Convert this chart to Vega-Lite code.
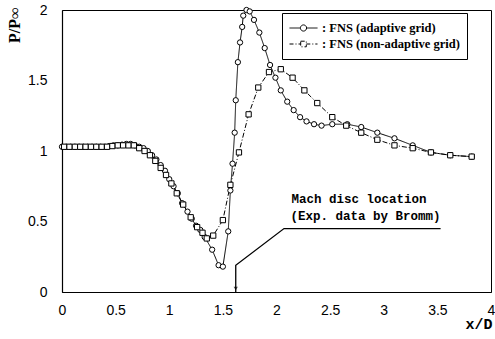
{
"$schema":"https://vega.github.io/schema/vega-lite/v6.json",
"width":429,"height":282,
"autosize":{"type":"none"},
"padding":{"left":62,"top":10,"right":4,"bottom":47},
"background":"white",
"config":{"view":{"stroke":"black","strokeWidth":1},"axis":{"grid":false,"ticks":false,"domainColor":"black","labelColor":"black","titleColor":"black","labelFont":"Liberation Sans","labelFontSize":14,"domainWidth":1.2}},
"datasets":{
"pts":[
{"s":"A","x":0,"y":1.03},{"s":"A","x":0.04,"y":1.03},{"s":"A","x":0.08,"y":1.03},{"s":"A","x":0.12,"y":1.03},{"s":"A","x":0.16,"y":1.03},{"s":"A","x":0.2,"y":1.03},{"s":"A","x":0.24,"y":1.03},{"s":"A","x":0.28,"y":1.03},{"s":"A","x":0.32,"y":1.03},{"s":"A","x":0.36,"y":1.03},{"s":"A","x":0.4,"y":1.03},{"s":"A","x":0.44,"y":1.035},{"s":"A","x":0.48,"y":1.04},{"s":"A","x":0.52,"y":1.04},{"s":"A","x":0.56,"y":1.045},{"s":"A","x":0.6,"y":1.05},{"s":"A","x":0.64,"y":1.05},{"s":"A","x":0.68,"y":1.04},{"s":"A","x":0.72,"y":1.03},{"s":"A","x":0.76,"y":1.02},{"s":"A","x":0.8,"y":1.0},{"s":"A","x":0.84,"y":0.97},{"s":"A","x":0.88,"y":0.94},{"s":"A","x":0.92,"y":0.9},{"s":"A","x":0.96,"y":0.86},{"s":"A","x":1.0,"y":0.8},{"s":"A","x":1.04,"y":0.75},{"s":"A","x":1.08,"y":0.7},{"s":"A","x":1.12,"y":0.63},{"s":"A","x":1.17,"y":0.57},{"s":"A","x":1.21,"y":0.52},{"s":"A","x":1.25,"y":0.47},{"s":"A","x":1.29,"y":0.44},{"s":"A","x":1.33,"y":0.39},{"s":"A","x":1.4,"y":0.3},{"s":"A","x":1.46,"y":0.19},{"s":"A","x":1.5,"y":0.18},{"s":"A","x":1.55,"y":0.43},{"s":"A","x":1.57,"y":0.72},{"s":"A","x":1.59,"y":0.91},{"s":"A","x":1.61,"y":1.13},{"s":"A","x":1.62,"y":1.36},{"s":"A","x":1.64,"y":1.63},{"s":"A","x":1.66,"y":1.77},{"s":"A","x":1.68,"y":1.88},{"s":"A","x":1.69,"y":1.96},{"s":"A","x":1.72,"y":2.0},{"s":"A","x":1.75,"y":1.99},{"s":"A","x":1.79,"y":1.93},{"s":"A","x":1.84,"y":1.84},{"s":"A","x":1.89,"y":1.73},{"s":"A","x":1.94,"y":1.61},{"s":"A","x":1.99,"y":1.52},{"s":"A","x":2.04,"y":1.43},{"s":"A","x":2.1,"y":1.35},{"s":"A","x":2.16,"y":1.29},{"s":"A","x":2.22,"y":1.24},{"s":"A","x":2.28,"y":1.21},{"s":"A","x":2.35,"y":1.19},{"s":"A","x":2.42,"y":1.18},{"s":"A","x":2.52,"y":1.19},{"s":"A","x":2.66,"y":1.19},{"s":"A","x":2.79,"y":1.17},{"s":"A","x":2.94,"y":1.13},{"s":"A","x":3.1,"y":1.09},{"s":"A","x":3.27,"y":1.04},{"s":"A","x":3.44,"y":0.99},{"s":"A","x":3.62,"y":0.97},{"s":"A","x":3.82,"y":0.96},
{"s":"N","x":0.02,"y":1.03},{"s":"N","x":0.07,"y":1.03},{"s":"N","x":0.12,"y":1.03},{"s":"N","x":0.17,"y":1.03},{"s":"N","x":0.22,"y":1.03},{"s":"N","x":0.27,"y":1.03},{"s":"N","x":0.32,"y":1.03},{"s":"N","x":0.37,"y":1.03},{"s":"N","x":0.42,"y":1.03},{"s":"N","x":0.47,"y":1.035},{"s":"N","x":0.52,"y":1.04},{"s":"N","x":0.57,"y":1.04},{"s":"N","x":0.62,"y":1.04},{"s":"N","x":0.67,"y":1.04},{"s":"N","x":0.72,"y":1.02},{"s":"N","x":0.77,"y":1.0},{"s":"N","x":0.82,"y":0.97},{"s":"N","x":0.87,"y":0.93},{"s":"N","x":0.92,"y":0.88},{"s":"N","x":0.97,"y":0.83},{"s":"N","x":1.02,"y":0.77},{"s":"N","x":1.07,"y":0.7},{"s":"N","x":1.13,"y":0.62},{"s":"N","x":1.2,"y":0.53},{"s":"N","x":1.26,"y":0.46},{"s":"N","x":1.31,"y":0.42},{"s":"N","x":1.35,"y":0.38},{"s":"N","x":1.41,"y":0.4},{"s":"N","x":1.5,"y":0.51},{"s":"N","x":1.57,"y":0.76},{"s":"N","x":1.65,"y":0.99},{"s":"N","x":1.74,"y":1.26},{"s":"N","x":1.83,"y":1.45},{"s":"N","x":1.93,"y":1.56},{"s":"N","x":2.04,"y":1.58},{"s":"N","x":2.15,"y":1.52},{"s":"N","x":2.26,"y":1.43},{"s":"N","x":2.38,"y":1.34},{"s":"N","x":2.52,"y":1.24},{"s":"N","x":2.65,"y":1.18},{"s":"N","x":2.79,"y":1.13},{"s":"N","x":2.94,"y":1.08},{"s":"N","x":3.1,"y":1.04},{"s":"N","x":3.27,"y":1.02},{"s":"N","x":3.44,"y":0.99},{"s":"N","x":3.62,"y":0.97},{"s":"N","x":3.82,"y":0.96}
],
"xticks":[{"x":0.1},{"x":0.2},{"x":0.3},{"x":0.4},{"x":0.5},{"x":0.6},{"x":0.7},{"x":0.8},{"x":0.9},{"x":1},{"x":1.1},{"x":1.2},{"x":1.3},{"x":1.4},{"x":1.5},{"x":1.6},{"x":1.7},{"x":1.8},{"x":1.9},{"x":2},{"x":2.1},{"x":2.2},{"x":2.3},{"x":2.4},{"x":2.5},{"x":2.6},{"x":2.7},{"x":2.8},{"x":2.9},{"x":3},{"x":3.1},{"x":3.2},{"x":3.3},{"x":3.4},{"x":3.5},{"x":3.6},{"x":3.7},{"x":3.8},{"x":3.9}],
"yticks":[{"y":0.1},{"y":0.2},{"y":0.3},{"y":0.4},{"y":0.5},{"y":0.6},{"y":0.7},{"y":0.8},{"y":0.9},{"y":1},{"y":1.1},{"y":1.2},{"y":1.3},{"y":1.4},{"y":1.5},{"y":1.6},{"y":1.7},{"y":1.8},{"y":1.9}],
"mach":[{"x":1.62,"y":0},{"x":1.62,"y":0.19},{"x":2.07,"y":0.45},{"x":3.53,"y":0.45}],
"arrow":[{"x":1.62,"y":0.025}],
"notes":[{"x":2.77,"y":0.66,"t":"Mach disc location"},{"x":2.83,"y":0.54,"t":"(Exp. data by Bromm)"}]
},
"encoding":{
"x":{"field":"x","type":"quantitative","scale":{"domain":[0,4],"nice":false,"zero":false},
"axis":{"values":[0,0.5,1,1.5,2,2.5,3,3.5,4],"format":"~g","labelPadding":11,"labelFlush":false,"labelOverlap":false,
"title":"x/D","titleFont":"Liberation Mono","titleFontWeight":"bold","titleFontSize":15,"titleAnchor":"end","titleAlign":"right","titleX":430,"titleY":36,"titleBaseline":"alphabetic"}},
"y":{"field":"y","type":"quantitative","scale":{"domain":[0,2],"nice":false,"zero":false},
"axis":{"values":[0,0.5,1,1.5,2],"format":"~g","labelPadding":15,"labelFlush":false,"labelOverlap":false,
"title":"P/P∞","titleFont":"Liberation Serif","titleFontWeight":"bold","titleFontSize":16,"titleAngle":-90,"titleAlign":"right","titleBaseline":"middle","titleX":-48,"titleY":-3}}
},
"layer":[
{"data":{"name":"xticks"},"mark":{"type":"rule","color":"black","strokeWidth":1},
 "encoding":{"y":{"datum":0,"type":"quantitative"},"y2":{"datum":0.042}}},
{"data":{"name":"yticks"},"mark":{"type":"rule","color":"black","strokeWidth":1},
 "encoding":{"x":{"datum":0,"type":"quantitative"},"x2":{"datum":0.047}}},
{"data":{"name":"pts"},"mark":{"type":"line","color":"black","strokeWidth":1},
 "encoding":{"strokeDash":{"field":"s","type":"nominal","scale":{"domain":["A","N"],"range":[[1,0],[5,2,1,2]]},"legend":null}}},
{"data":{"name":"pts"},"mark":{"type":"point","filled":false,"stroke":"black","strokeWidth":1,"size":28,"fill":"white","fillOpacity":1},
 "encoding":{"shape":{"field":"s","type":"nominal","scale":{"domain":["A","N"],"range":["circle","square"]},"legend":null}}},
{"data":{"name":"mach"},"mark":{"type":"line","color":"black","strokeWidth":1.3},"encoding":{}},
{"data":{"name":"arrow"},"mark":{"type":"point","shape":"triangle-down","filled":true,"color":"black","size":18},"encoding":{}},
{"data":{"name":"notes"},"mark":{"type":"text","font":"Liberation Mono","fontWeight":"bold","fontSize":12.5,"align":"center","baseline":"middle","color":"black"},
 "encoding":{"text":{"field":"t"}}},
{"data":{"name":"pts"},"mark":{"type":"point","opacity":0,"filled":false,"stroke":"black","size":784},
 "encoding":{
 "shape":{"field":"s","type":"nominal","scale":{"domain":["A","N"],"range":["M-1,0H-0.22M0.22,0H1M0.22,0A0.22,0.22,0,1,1,-0.22,0A0.22,0.22,0,1,1,0.22,0","M-1,0H-0.2M0.2,0H1M-0.2,-0.2H0.2V0.2H-0.2Z"]},
  "legend":{"title":null,"orient":"none","legendX":220,"legendY":3,"padding":7,"strokeColor":"black","fillColor":"white","symbolOpacity":1,"symbolStrokeColor":"black","symbolStrokeWidth":1,"symbolFillColor":"white","symbolSize":784,"clipHeight":16,"rowPadding":0,"labelFont":"Liberation Serif","labelFontWeight":"bold","labelFontSize":12.5,"labelColor":"black","labelOffset":4,"labelExpr":"datum.label == 'A' ? ': FNS (adaptive grid)' : ': FNS (non-adaptive grid)'"}},
 "strokeDash":{"field":"s","type":"nominal","scale":{"domain":["A","N"],"range":[[1,0],[4,2,1,2]]},
  "legend":{"title":null,"orient":"none","legendX":220,"legendY":3,"padding":7,"strokeColor":"black","fillColor":"white","symbolOpacity":1,"symbolStrokeColor":"black","symbolStrokeWidth":1,"symbolFillColor":"white","symbolSize":784,"clipHeight":16,"rowPadding":0,"labelFont":"Liberation Serif","labelFontWeight":"bold","labelFontSize":12.5,"labelColor":"black","labelOffset":4,"labelExpr":"datum.label == 'A' ? ': FNS (adaptive grid)' : ': FNS (non-adaptive grid)'"}}}}
],
"resolve":{"scale":{"shape":"independent","strokeDash":"independent"},"legend":{"shape":"independent","strokeDash":"independent"}}
}
